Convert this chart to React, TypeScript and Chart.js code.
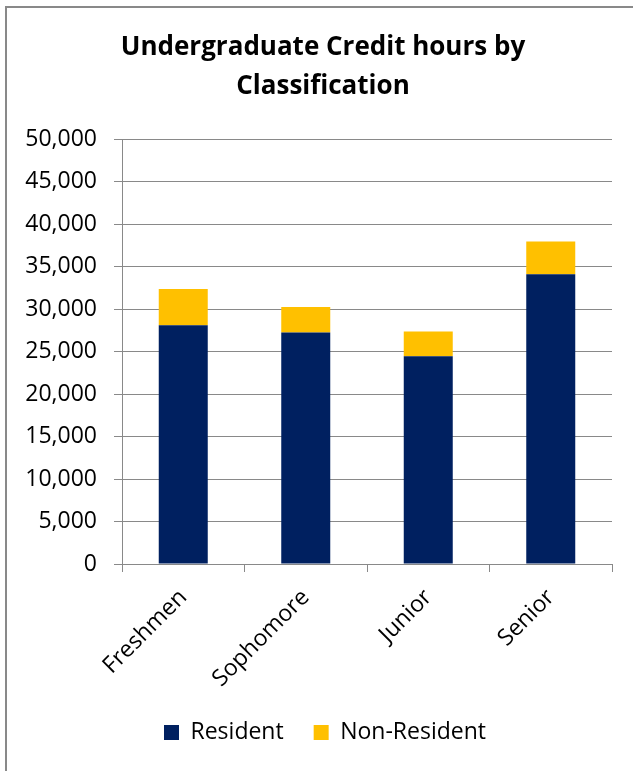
import React, { useEffect, useRef } from "react";
import { Chart, registerables } from "chart.js";

Chart.register(...registerables);

const categories = ["Freshmen", "Sophomore", "Junior", "Senior"];
const residentValues = [28100, 27250, 24450, 34100];
const nonResidentValues = [4250, 3000, 2900, 3850];
const titleLines = ["Undergraduate Credit hours by", "Classification"];
const FONT = "'Open Sans', 'DejaVu Sans', sans-serif";

const decorPlugin = {
  id: "decor",
  afterLayout(chart: any) {
    const lg = chart.legend;
    if (lg) {
      lg.left += 19;
      lg.right += 19;
    }
  },
  afterDraw(chart: any) {
    const ctx = chart.ctx;
    ctx.save();
    ctx.fillStyle = "#898989";
    ctx.fillRect(5, 6, 628, 2);
    ctx.fillRect(5, 6, 2, 765);
    ctx.fillStyle = "#000000";
    ctx.font = `bold 26px ${FONT}`;
    ctx.textAlign = "center";
    ctx.textBaseline = "middle";
    ctx.fillText(titleLines[0], 323, 48);
    ctx.fillText(titleLines[1], 323, 87);
    ctx.restore();
  },
};

export default function App() {
  const ref = useRef<HTMLCanvasElement | null>(null);
  useEffect(() => {
    if (!ref.current) return;
    const chart = new Chart(ref.current, {
      type: "bar",
      data: {
        labels: categories,
        datasets: [
          {
            label: "Resident",
            data: residentValues,
            backgroundColor: "#002060",
            barPercentage: 0.4,
            categoryPercentage: 1,
          },
          {
            label: "Non-Resident",
            data: nonResidentValues,
            backgroundColor: "#FFC000",
            barPercentage: 0.4,
            categoryPercentage: 1,
          },
        ],
      },
      options: {
        animation: false,
        responsive: false,
        layout: { padding: { top: 139, right: 21, left: 0, bottom: 17 } },
        plugins: {
          title: { display: false },
          tooltip: { enabled: false },
          legend: {
            position: "bottom",
            labels: {
              boxWidth: 15,
              boxHeight: 15,
              padding: 30,
              color: "#000",
              font: { family: FONT, size: 23 },
            },
          },
        },
        scales: {
          x: {
            stacked: true,
            afterFit: (s: any) => {
              s.height = 127;
            },
            grid: {
              drawOnChartArea: false,
              offset: true,
              tickLength: 8,
              color: "#898989",
            },
            border: { color: "#898989", width: 1 },
            ticks: {
              minRotation: 45,
              maxRotation: 45,
              padding: 12,
              color: "#000",
              font: { family: FONT, size: 23 },
            },
          },
          y: {
            stacked: true,
            min: 0,
            max: 50000,
            afterFit: (s: any) => {
              s.width = 122;
            },
            grid: { color: "#898989", tickLength: 8, lineWidth: 1 },
            border: { color: "#898989", width: 1 },
            ticks: {
              stepSize: 5000,
              padding: 17,
              color: "#000",
              font: { family: FONT, size: 23 },
              callback: (v: any) => Number(v).toLocaleString("en-US"),
            },
          },
        },
      },
      plugins: [decorPlugin],
    });
    return () => chart.destroy();
  }, []);
  return (
    <div style={{ position: "fixed", left: 0, top: 0, width: 633, height: 771, background: "#fff" }}>
      <canvas ref={ref} width={633} height={771} style={{ display: "block" }} />
    </div>
  );
}
